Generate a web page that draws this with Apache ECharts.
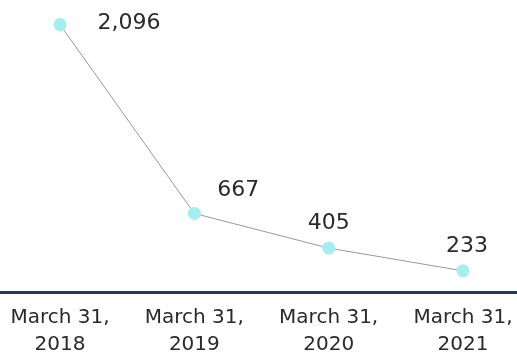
<!DOCTYPE html>
<html><head><meta charset="utf-8">
<script src="https://cdn.jsdelivr.net/npm/echarts@6/dist/echarts.min.js"></script>
<style>html,body{margin:0;padding:0;background:#fff}#c{width:517px;height:358px}</style>
</head><body><div id="c"></div>
<script>
var categories = ['March 31,\n2018', 'March 31,\n2019', 'March 31,\n2020', 'March 31,\n2021'];
var values = [2096, 667, 405, 233];
var labelOffsets = [[69, 26], [44, 4], [0, 3], [4, 3]];
var font = 'DejaVu Sans';
var chart = echarts.init(document.getElementById('c'));
chart.setOption({
  animation: false,
  grid: [
    { left: 60, right: 54, top: 0, bottom: 66 },
    { left: 0, right: 0, top: 0, bottom: 66 }
  ],
  xAxis: [{
    type: 'category', data: categories, boundaryGap: false, gridIndex: 0,
    axisLine: { show: false },
    axisTick: { show: false },
    axisLabel: { color: '#2a2a2a', fontFamily: font, fontSize: 20, lineHeight: 27, margin: 14 }
  }, {
    type: 'category', data: categories, gridIndex: 1,
    axisLine: { lineStyle: { color: '#1f3864', width: 3 } },
    axisTick: { show: false }, axisLabel: { show: false }
  }],
  yAxis: [
    { type: 'value', min: 88, max: 2282, show: false, splitLine: { show: false }, gridIndex: 0 },
    { type: 'value', show: false, splitLine: { show: false }, gridIndex: 1 }
  ],
  series: [{
    type: 'line', data: values.map(function (v, i) {
      return { value: v, label: { offset: labelOffsets[i] } };
    }),
    symbol: 'circle', symbolSize: 13,
    itemStyle: { color: '#a3eef0' },
    lineStyle: { color: '#999', width: 1 },
    label: {
      show: true, position: 'top', distance: 10, color: '#2a2a2a', fontFamily: font, fontSize: 22,
      formatter: function (p) { return p.value.toLocaleString('en-US'); }
    }
  }]
});
</script></body></html>
